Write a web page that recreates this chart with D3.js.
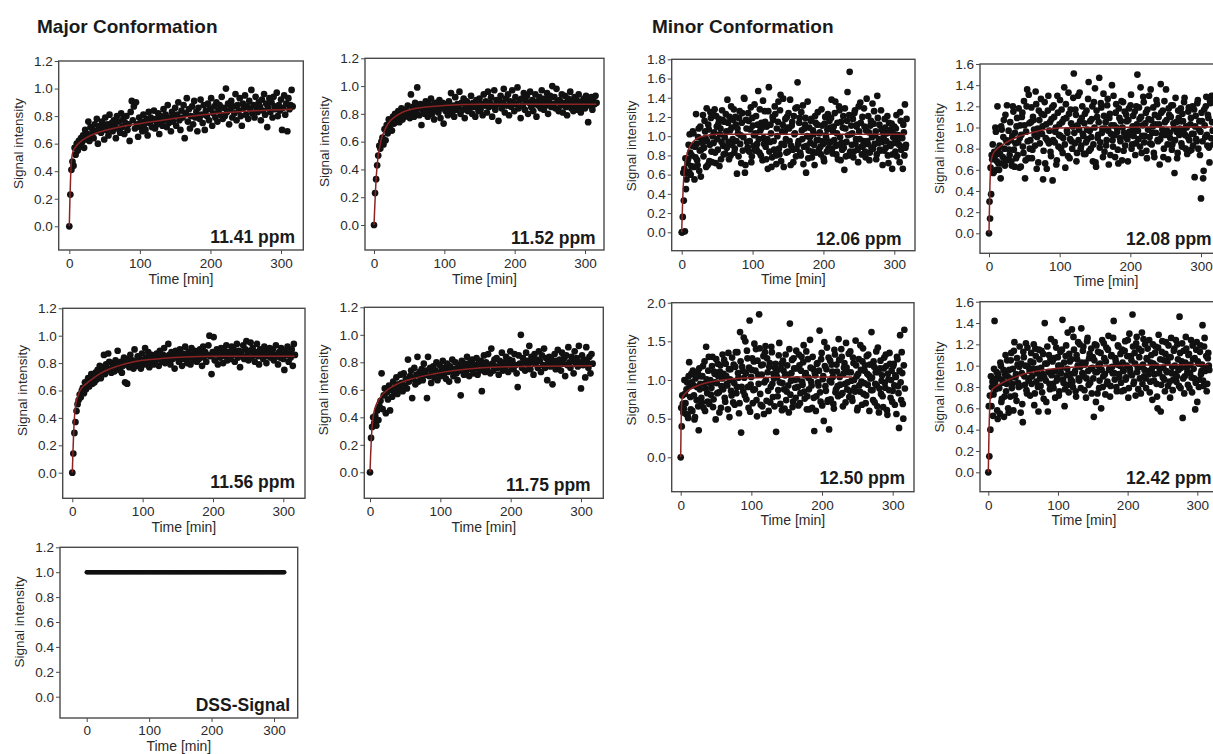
<!DOCTYPE html>
<html><head><meta charset="utf-8">
<script src="https://cdn.jsdelivr.net/npm/d3@7"></script>
<style>body{margin:0;background:#fff}svg text{font-family:"Liberation Sans",Arial,sans-serif}</style>
</head><body><svg id="c" width="1213" height="754"></svg>
<script>
// shared acquisition times [min]
const times = [0,1.5,3,4.5,6,7.5,9,10.5,12,13.5,
15,16.5,18,19.5,21,22.5,24,25.5,27,28.5,
30,31.5,33,34.5,36,37.5,39,40.5,42,43.5,
45,46.5,48,49.5,51,52.5,54,55.5,57,58.5,
60,61.5,63,64.5,66,67.5,69,70.5,72,73.5,
75,76.5,78,79.5,81,82.5,84,85.5,87,88.5,
90,91.5,93,94.5,96,97.5,99,100.5,102,103.5,
105,106.5,108,109.5,111,112.5,114,115.5,117,118.5,
120,121.5,123,124.5,126,127.5,129,130.5,132,133.5,
135,136.5,138,139.5,141,142.5,144,145.5,147,148.5,
150,151.5,153,154.5,156,157.5,159,160.5,162,163.5,
165,166.5,168,169.5,171,172.5,174,175.5,177,178.5,
180,181.5,183,184.5,186,187.5,189,190.5,192,193.5,
195,196.5,198,199.5,201,202.5,204,205.5,207,208.5,
210,211.5,213,214.5,216,217.5,219,220.5,222,223.5,
225,226.5,228,229.5,231,232.5,234,235.5,237,238.5,
240,241.5,243,244.5,246,247.5,249,250.5,252,253.5,
255,256.5,258,259.5,261,262.5,264,265.5,267,268.5,
270,271.5,273,274.5,276,277.5,279,280.5,282,283.5,
285,286.5,288,289.5,291,292.5,294,295.5,297,298.5,
300,301.5,303,304.5,306,307.5,309,310.5,312,313.5,
315,316.5];
// interleaved acquisition times (second scan block) [min]
const times2 = [0.75,2.25,3.75,5.25,6.75,8.25,9.75,11.25,12.75,14.25,
15.75,17.25,18.75,20.25,21.75,23.25,24.75,26.25,27.75,29.25,
30.75,32.25,33.75,35.25,36.75,38.25,39.75,41.25,42.75,44.25,
45.75,47.25,48.75,50.25,51.75,53.25,54.75,56.25,57.75,59.25,
60.75,62.25,63.75,65.25,66.75,68.25,69.75,71.25,72.75,74.25,
75.75,77.25,78.75,80.25,81.75,83.25,84.75,86.25,87.75,89.25,
90.75,92.25,93.75,95.25,96.75,98.25,99.75,101.25,102.75,104.25,
105.75,107.25,108.75,110.25,111.75,113.25,114.75,116.25,117.75,119.25,
120.75,122.25,123.75,125.25,126.75,128.25,129.75,131.25,132.75,134.25,
135.75,137.25,138.75,140.25,141.75,143.25,144.75,146.25,147.75,149.25,
150.75,152.25,153.75,155.25,156.75,158.25,159.75,161.25,162.75,164.25,
165.75,167.25,168.75,170.25,171.75,173.25,174.75,176.25,177.75,179.25,
180.75,182.25,183.75,185.25,186.75,188.25,189.75,191.25,192.75,194.25,
195.75,197.25,198.75,200.25,201.75,203.25,204.75,206.25,207.75,209.25,
210.75,212.25,213.75,215.25,216.75,218.25,219.75,221.25,222.75,224.25,
225.75,227.25,228.75,230.25,231.75,233.25,234.75,236.25,237.75,239.25,
240.75,242.25,243.75,245.25,246.75,248.25,249.75,251.25,252.75,254.25,
255.75,257.25,258.75,260.25,261.75,263.25,264.75,266.25,267.75,269.25,
270.75,272.25,273.75,275.25,276.75,278.25,279.75,281.25,282.75,284.25,
285.75,287.25,288.75,290.25,291.75,293.25,294.75,296.25,297.75,299.25,
300.75,302.25,303.75,305.25,306.75,308.25,309.75,311.25,312.75,314.25,
315.75,317.25];

const v1141 = [0,.23,.41,.47,.44,.57,.52,.6,.55,.62,
.58,.64,.61,.66,.57,.70,.63,.67,.76,.62,
.72,.66,.70,.64,.74,.69,.78,.60,.71,.73,
.68,.76,.72,.63,.79,.70,.74,.66,.81,.71,
.75,.69,.77,.73,.64,.80,.71,.76,.68,.82,
.72,.78,.67,.75,.80,.70,.74,.62,.83,.91,
.77,.87,.71,.90,.74,.65,.79,.72,.76,.69,
.81,.74,.70,.78,.66,.83,.75,.79,.72,.77,
.84,.71,.78,.74,.82,.67,.80,.76,.73,.85,
.77,.81,.72,.88,.75,.79,.69,.83,.76,.80,
.86,.73,.81,.90,.77,.70,.84,.79,.88,.64,
.82,.93,.76,.85,.71,.80,.87,.74,.91,.79,
.83,.69,.86,.78,.92,.81,.75,.88,.70,.84,
.80,.89,.77,.85,.93,.73,.82,.87,.79,.90,
.76,.84,.88,.81,.94,.78,.86,.80,1.0,.83,
.89,.74,.85,.91,.79,.87,.82,.96,.77,.88,
.84,.93,.80,.73,.89,.86,.95,.81,.87,.78,
.91,.85,.99,.82,.88,.79,.94,.86,.83,.90,
.87,.77,.92,.84,.96,.81,.89,.72,.86,.93,
.83,.90,.79,.94,.87,.85,.97,.80,.88,.84,
.92,.70,.86,.95,.81,.89,.69,.93,.85,.88,
.99,.87];

const v1152 = [0,.23,.33,.43,.50,.57,.55,.60,.63,.58,
.69,.61,.72,.66,.76,.70,.74,.68,.78,.73,
.80,.75,.77,.82,.74,.79,.84,.76,.81,.78,
.83,.79,.86,.80,.77,.94,.82,.85,.78,.88,
.81,.99,.84,.79,.87,.72,.83,.86,.80,.89,
.84,.78,.87,.82,.91,.80,.85,.76,.88,.83,
.86,.81,.90,.77,.84,.88,.73,.85,.82,.87,
.79,.89,.84,.95,.81,.86,.78,.92,.83,.87,
.85,.96,.80,.88,.83,.91,.77,.86,.89,.82,
.87,.84,.93,.80,.88,.85,.78,.90,.86,.82,
.91,.83,.87,.79,.94,.86,.89,.81,.96,.85,
.88,.92,.78,.86,.97,.83,.90,.87,.75,.89,
.93,.84,.88,.98,.81,.91,.86,.94,.79,.89,
.85,.97,.88,.82,.92,.87,.99,.84,.90,.77,
.91,.86,.95,.83,.89,.93,.80,.88,.96,.85,
.90,.82,.87,.94,.78,.89,.86,.92,.84,.97,
.88,.83,.91,.86,.95,.80,.89,.93,.85,1.0,
.87,.92,.84,.98,.89,.82,.90,.86,.94,.81,
.88,.93,.85,.79,.91,.87,.96,.84,.89,.82,
.92,.86,.90,.83,.94,.87,.81,.89,.85,.91,
.84,.93,.88,.74,.90,.86,.92,.83,.89,.87,
.93,.88];

const v1206 = [0,.16,.33,.01,.45,.62,.76,.63,.83,.69,
.90,1.03,.55,.78,.92,.70,1.08,.85,.58,.96,
1.22,.88,1.05,.68,.95,1.12,.74,1.25,.84,1.00,
.93,1.28,.72,1.10,.86,1.18,1.02,.76,1.27,.90,
1.15,.82,1.05,1.38,.94,1.20,.80,1.09,.97,1.28,
.87,1.12,.61,1.03,1.19,.92,.72,1.24,.99,1.39,
.70,1.08,.88,1.16,.95,1.30,.79,1.11,1.01,.85,
1.21,.92,1.47,.83,1.06,1.14,.75,.98,1.26,.89,
1.10,.66,1.51,.94,1.03,.78,1.17,.86,1.23,.71,
1.00,1.36,.81,1.43,.92,1.12,.68,1.05,.97,1.20,
.84,1.08,1.38,.90,1.15,.73,1.02,1.29,.87,1.56,
.95,1.19,.80,1.06,1.32,.89,1.12,.62,1.00,.77,
1.09,.93,1.18,.84,1.02,.70,1.14,.96,1.25,.86,
1.04,.81,1.11,.92,.74,1.20,.98,1.07,.87,1.16,
.94,1.38,.82,1.10,1.24,.90,1.03,.76,1.31,.99,
1.15,.86,1.21,.65,1.08,.94,1.46,.80,1.67,1.02,
.91,1.18,.84,1.27,.97,1.12,.73,1.05,1.35,.89,
1.20,.95,1.10,.78,1.39,.92,1.04,.83,1.16,.99,
.87,1.26,1.01,.76,1.42,.93,1.12,.85,1.07,.70,
.98,1.18,.88,1.03,.80,1.14,.92,1.07,.66,.99,
1.10,.84,1.22,.95,1.01,.73,1.16,.89,.66,1.04,
1.33,.91];
const v1206b = [0,.62,.66,.77,.55,.72,.91,1.02,.60,.80,
1.05,.68,.89,1.23,.75,.99,.64,1.10,.86,.93,
.79,1.16,.98,1.29,.70,1.07,.91,1.19,.73,1.24,
1.04,.83,1.21,.97,1.13,.69,1.08,.94,1.17,.81,
.99,1.23,.88,1.14,.76,1.06,1.31,.91,1.17,.83,
1.20,.95,1.08,.79,1.26,1.01,1.14,.85,1.40,.62,
1.17,.94,1.24,.84,1.07,.73,1.19,.90,1.33,1.03,
.86,1.12,.97,1.28,.80,1.09,1.37,.92,1.15,.76,
.97,1.26,.84,1.12,.68,1.20,.95,1.31,.80,1.08,
1.15,.87,1.27,.74,1.05,1.39,.91,1.18,.83,1.09,
1.24,.95,.70,1.11,.86,1.21,1.03,.79,1.30,.92,
1.14,.83,1.25,.97,.71,1.08,1.19,.90,1.36,.85,
.99,1.16,.78,1.06,.91,1.21,.83,1.12,.96,1.03,
.89,1.28,.95,.77,1.13,1.01,.84,1.23,.93,1.09,
1.19,.87,1.05,.96,1.36,.81,1.14,.91,1.27,.75,
.93,1.09,.88,1.29,.79,1.16,1.01,1.22,.84,1.11,
1.03,.78,1.24,.92,1.10,.86,1.31,.97,1.14,.81,
.90,1.29,.84,1.06,.95,1.21,.75,1.11,.88,1.34,
1.13,.92,1.05,.81,1.19,.97,.86,1.27,.94,1.03,
.85,1.09,.95,1.21,.72,1.04,.90,1.13,.81,1.02,
.93,1.08,.79,1.01,.91,1.25,.86,.98,1.12,.80,
.88,1.18];

const v1208 = [0,.14,.37,.70,.57,.77,1.00,.60,1.20,.66,
.83,.52,.98,.72,1.07,.64,.88,1.21,.70,.79,
1.05,.68,.92,1.15,.63,.85,1.01,.74,1.18,.90,
.63,1.10,.82,1.25,.52,.96,1.36,.71,1.04,.88,
1.19,.79,1.07,.93,1.34,.61,.99,1.16,.85,1.27,
.94,.51,1.12,.66,1.03,.88,1.30,.97,.77,1.08,
.50,1.21,.86,1.00,.69,1.14,.93,1.26,.80,1.05,
.90,1.38,.62,1.09,.95,1.33,.71,1.17,.87,1.01,
1.51,.85,1.12,.76,1.30,.98,1.06,.83,1.20,.92,
1.04,.75,1.16,.89,1.43,.97,.80,1.08,.68,1.24,
1.37,.63,1.10,.93,1.47,.86,1.19,.99,1.32,.77,
1.05,.88,1.27,.65,1.13,.94,1.40,.82,1.02,.72,
1.22,.96,.66,1.09,.87,1.25,1.00,.78,1.15,.91,
1.06,.68,1.18,.93,1.31,.84,1.11,.97,.74,1.20,
1.50,.89,1.08,1.38,.76,1.02,1.24,.92,1.14,.71,
.98,1.30,.85,1.07,.95,1.19,.72,1.03,1.26,.88,
1.10,.65,1.41,.93,1.16,.80,1.05,1.36,.97,.70,
1.12,.90,1.21,.84,1.04,.57,1.28,.96,.76,1.09,
.99,1.18,.82,1.06,1.24,.93,1.01,.75,1.15,.88,
1.03,.79,1.20,.94,.53,1.11,.87,1.26,.98,.74,
.33,1.06,.52,1.17,.91,1.29,.83,1.09,.67,1.23,
1.30,.97];
const v1208b = [.30,.62,.74,.84,.58,.73,.96,.68,.79,.60,
.75,1.01,.66,.91,.80,1.12,.69,.86,.97,.74,
.88,.64,1.20,.79,.95,.71,1.09,.86,.62,1.02,
.93,1.14,.76,1.02,.69,1.20,.87,1.31,.80,1.05,
.71,1.10,.98,.83,1.22,.91,.67,1.07,.95,1.13,
1.01,.78,1.24,.90,.61,1.16,.85,1.05,.73,1.19,
.88,1.10,.96,.65,1.30,.82,1.03,.92,1.17,.76,
1.08,.84,1.22,.97,.73,1.13,.89,1.04,.80,1.28,
.95,1.17,.68,1.02,.88,1.33,.80,1.09,.94,.75,
1.13,.86,.98,1.27,.78,1.06,.91,1.20,.84,1.00,
.67,1.16,.90,1.05,.81,1.23,.95,.72,1.11,.99,
.83,1.21,.97,1.09,.74,1.02,.88,1.30,.93,1.14,
1.00,.79,1.18,.90,1.06,.69,1.24,.95,.83,1.12,
.89,1.07,.96,1.21,.80,1.01,.92,1.15,.85,1.03,
.97,1.19,.82,1.10,.92,1.29,.86,1.04,.78,1.17,
1.08,.91,1.36,.84,1.01,.76,1.12,.95,1.22,.87,
1.03,.89,1.14,.98,.72,1.25,.93,1.07,.84,1.18,
.95,1.10,.79,1.21,.99,.88,1.05,.71,1.16,.93,
1.06,.85,1.13,.97,1.28,.80,1.00,.91,1.19,.78,
1.09,.94,.83,1.17,1.01,.89,1.23,.80,1.06,.96,
1.14,.87,.59,1.02,1.20,.93,1.12,.81,1.25,.90,
1.05,.84];

const v1156 = [0,.14,.29,.37,.45,.50,.53,.57,.55,.60,
.62,.58,.66,.61,.64,.69,.63,.67,.72,.65,
.70,.66,.73,.68,.75,.71,.78,.69,.74,.77,
.86,.72,.79,.75,.87,.81,.76,.73,.80,.78,
.74,.82,.77,.89,.79,.75,.81,.73,.78,.84,
.66,.80,.65,.83,.77,.86,.79,.82,.76,.90,
.81,.78,.85,.80,.83,.76,.87,.82,.79,.91,
.84,.80,.88,.77,.83,.86,.81,.79,.85,.82,
.87,.83,.78,.89,.84,.81,.86,.91,.80,.85,
.82,.94,.86,.79,.88,.83,.85,.76,.89,.84,
.86,.81,.90,.84,.78,.87,.83,.92,.85,.80,
.88,.84,.79,.91,.86,.82,.89,.85,.81,.87,
.83,.90,.86,.78,.92,.84,.88,.81,.86,.93,
1.00,.85,.72,.88,.99,.82,.87,.90,.79,.86,
.84,.91,.87,.80,.89,.85,.93,.82,.88,.86,
.83,.92,.86,.90,.81,.87,.94,.84,.89,.77,
.88,.85,.93,.83,.90,.96,.86,.82,.89,.95,
.84,.91,.87,.81,.88,.94,.85,.79,.90,.86,
.89,.83,.92,.87,.80,.88,.85,.91,.84,.87,
.90,.82,.86,.93,.85,.79,.88,.84,.91,.86,
.83,.75,.89,.86,.92,.81,.87,.84,.90,.78,
.94,.86];

const v1175 = [0,.25,.33,.40,.36,.41,.34,.45,.38,.48,
.52,.72,.46,.56,.61,.43,.58,.53,.63,.45,
.60,.55,.66,.58,.62,.69,.57,.64,.61,.71,
.65,.59,.72,.63,.68,.61,.82,.66,.70,.74,
.54,.68,.76,.64,.71,.84,.66,.73,.69,.75,
.67,.79,.71,.74,.54,.84,.70,.76,.65,.73,
.77,.69,.74,.80,.67,.72,.78,.70,.75,.81,
.71,.76,.68,.79,.73,.66,.77,.74,.82,.70,
.75,.80,.72,.67,.78,.74,.56,.81,.76,.71,
.79,.73,.84,.77,.70,.80,.75,.82,.72,.78,
.76,.83,.71,.79,.74,.81,.59,.77,.85,.73,
.80,.75,.86,.78,.72,.90,.79,.74,.82,.77,
.83,.76,.71,.81,.78,.87,.74,.80,.76,.84,
.79,.73,.82,.88,.77,.81,.75,.86,.78,.72,
.62,.85,.79,1.0,.76,.83,.80,.74,.87,.81,
.78,.92,.75,.84,.80,.71,.86,.79,.82,.76,
.88,.81,.73,.85,.78,.90,.76,.83,.67,.80,
.84,.77,.82,.64,.79,.86,.75,.81,.89,.78,
.82,.74,.87,.79,.83,.70,.85,.78,.91,.80,
.76,.84,.81,.72,.88,.79,.83,.77,.92,.80,
.61,.85,.78,.82,.69,.91,.80,.76,.84,.72,
.86,.79];

const v1250 = [0,.40,.69,.63,.82,.56,.97,.51,1.23,.78,
1.08,.60,.93,.49,1.02,.74,1.10,.35,.88,1.05,
.71,1.18,.95,.60,1.43,.83,1.12,.69,1.00,.90,
1.30,.75,1.08,.49,.96,1.21,.84,1.11,.64,1.02,
.88,1.26,.72,1.05,.93,1.35,.52,1.14,.80,.99,
1.20,.68,1.36,.91,1.09,.57,1.62,.32,1.17,.85,
1.03,1.50,.75,1.28,.64,1.77,.94,1.13,.70,1.24,
.88,1.40,.53,1.07,1.85,.82,1.19,.66,1.31,.97,
1.44,.73,1.10,.60,1.22,.91,1.36,.78,1.02,1.16,
.33,1.04,.87,1.48,.69,1.21,.96,1.12,.63,1.33,
.85,1.07,.58,1.73,.99,1.26,.72,1.15,.90,1.38,
1.01,.67,1.19,.83,1.30,.94,1.45,.76,1.09,.62,
1.27,.88,1.52,.98,.64,1.14,.34,1.06,.79,1.22,
.93,1.64,.72,1.35,1.01,.47,1.18,.86,1.42,.74,
.36,1.25,.97,1.11,.69,1.39,.84,1.20,.92,1.53,
1.04,.81,1.30,.66,1.16,.95,1.48,.88,1.10,.78,
1.37,.99,.73,1.22,.90,1.51,1.05,.64,1.27,.85,
1.13,.68,1.41,.96,1.19,.80,1.08,1.33,.60,1.02,
1.62,.87,1.24,.71,1.10,.93,1.42,.58,1.15,.82,
1.06,.65,1.29,.90,1.18,.55,1.01,1.35,.77,1.12,
.86,1.21,.68,1.04,1.30,.92,.38,1.58,.74,1.09,
.50,1.65];
const v1250b = [.64,.80,.58,1.00,.70,.88,.55,1.05,.92,.62,
.97,1.12,.80,.52,1.07,.91,.66,1.15,.95,.77,
1.05,.64,1.24,.89,1.01,.72,1.30,.96,.81,1.18,
.65,1.11,.97,1.27,.83,1.05,.58,1.19,.92,1.33,
1.08,.77,1.21,.95,.62,1.14,1.01,.86,1.29,.71,
.96,1.17,.83,1.36,1.03,.70,1.24,.91,1.12,1.55,
.80,1.09,1.38,.91,1.16,.59,1.04,1.28,.87,1.47,
1.12,.74,1.25,.95,1.41,.68,1.07,1.20,.56,1.36,
1.00,1.28,.86,1.17,.71,1.43,.95,1.08,.66,1.21,
1.11,.79,1.32,.97,1.15,.61,1.25,.88,1.06,.74,
1.19,.93,1.40,.81,1.09,.65,1.28,1.00,.77,1.15,
.91,1.33,.70,1.12,.98,1.23,.85,1.06,1.37,.79,
1.03,.62,1.16,.93,1.30,.77,1.09,.60,1.21,.97,
1.12,.84,1.27,.67,1.05,1.49,.92,1.14,.72,1.29,
.99,.75,1.20,1.04,.63,1.33,.88,1.11,.79,1.26,
.94,1.40,.83,1.08,1.22,.71,1.16,.97,1.34,.86,
1.10,.77,1.29,1.00,.85,1.19,.61,1.08,.93,1.45,
.98,1.24,.82,1.12,.70,1.31,.94,1.06,1.20,.87,
1.03,.74,1.17,.95,1.37,.66,1.10,.89,1.25,.99,
.79,1.15,.96,1.33,.61,1.08,.87,1.21,1.00,.72,
1.18,.93,1.06,.56,1.27,.83,1.12,.97,1.36,.69,
1.19,.89];

const v1242 = [0,.15,.40,.62,.85,.73,1.42,.78,.94,.50,
.88,.55,1.00,.69,.84,.52,.92,.76,1.05,.60,
.96,.71,1.12,.83,.58,1.22,.89,.67,1.01,.80,
1.18,.56,.93,.47,1.08,.82,1.21,.74,.99,.88,
.72,1.12,.90,1.03,.63,1.16,.85,.97,.57,1.06,
.81,1.14,.92,.69,1.40,.86,1.02,.57,1.10,.78,
1.25,.94,.83,1.07,.70,1.17,.89,1.00,.76,1.13,
.98,1.43,.84,.62,1.09,.91,1.31,.75,1.04,.87,
1.34,.80,1.15,.95,.71,1.06,1.22,.86,.99,1.35,
.93,1.18,.77,1.03,.88,1.26,.82,1.11,.97,.74,
1.08,.52,1.20,.66,.94,1.13,.79,1.02,.60,1.24,
.90,1.07,.73,1.17,.85,1.28,.98,.81,1.10,.93,
1.42,.87,1.04,.76,1.19,.92,1.00,.84,1.15,.96,
.77,1.23,.89,1.09,.70,1.30,.94,1.05,1.48,.83,
1.12,.72,1.27,.98,1.16,.88,.74,1.31,1.01,.90,
1.20,.79,1.06,.95,1.24,.85,1.10,.68,1.02,.92,
1.18,.83,.60,1.29,.97,.57,1.13,.89,1.05,.76,
1.22,.94,.81,1.08,.70,1.26,.99,.87,1.16,.92,
.85,1.20,.96,1.46,.79,1.04,.51,1.14,.90,1.27,
.98,.82,1.11,.93,1.24,.75,1.06,.88,.59,1.15,
.66,1.02,.87,1.19,.95,1.38,.81,1.26,.98,.76,
1.07,1.00];
const v1242b = [.62,.72,.90,.80,.53,.97,.84,.88,.58,.92,
.79,1.03,.66,.87,.96,.71,1.10,.83,.90,.56,
.88,1.05,.79,.97,1.14,.72,.92,1.07,.84,.99,
.81,1.02,.64,1.13,.90,1.00,.77,1.17,.86,.95,
1.04,.83,.97,1.20,.74,1.09,.93,.80,1.15,.88,
.98,.75,1.11,.89,1.02,.66,1.18,.94,.83,1.06,
.91,1.04,.79,1.22,.95,.86,1.08,.72,1.00,.93,
1.15,.87,1.03,.78,1.19,.97,.82,1.11,.92,1.06,
.85,1.27,.93,.76,1.10,1.00,.88,1.20,.79,1.03,
1.14,.90,1.01,.70,1.23,.95,1.07,.84,1.16,.98,
.88,1.05,.94,1.19,.74,1.00,.86,1.12,.96,.80,
1.21,.92,1.04,.83,1.15,.96,.71,1.09,.99,1.26,
.93,1.07,.80,1.01,1.18,.89,1.11,.76,1.03,.95,
1.14,.87,1.00,1.24,.79,.97,1.09,.91,1.18,.85,
1.02,1.21,.94,.78,1.08,.99,1.14,.83,1.25,.96,
.88,1.07,1.16,.92,.75,1.03,.97,1.20,.86,1.12,
1.00,.71,1.17,.93,1.06,.82,1.23,.98,.87,1.11,
.95,1.03,1.19,.85,1.08,.93,.77,1.14,1.00,1.24,
.90,1.06,.81,1.12,.98,1.21,.88,.74,1.03,1.16,
.94,1.10,.79,1.01,.89,1.19,.97,1.07,.84,1.22,
1.04,.80,1.13,.92,1.01,.86,1.18,.95,1.09,.83,
1.12,.96];

const vDSS = [1,1,1,1,1,1,1,1,1,1,
1,1,1,1,1,1,1,1,1,1,
1,1,1,1,1,1,1,1,1,1,
1,1,1,1,1,1,1,1,1,1,
1,1,1,1,1,1,1,1,1,1,
1,1,1,1,1,1,1,1,1,1,
1,1,1,1,1,1,1,1,1,1,
1,1,1,1,1,1,1,1,1,1,
1,1,1,1,1,1,1,1,1,1,
1,1,1,1,1,1,1,1,1,1,
1,1,1,1,1,1,1,1,1,1,
1,1,1,1,1,1,1,1,1,1,
1,1,1,1,1,1,1,1,1,1,
1,1,1,1,1,1,1,1,1,1,
1,1,1,1,1,1,1,1,1,1,
1,1,1,1,1,1,1,1,1,1,
1,1,1,1,1,1,1,1,1,1,
1,1,1,1,1,1,1,1,1,1,
1,1,1,1,1,1,1,1,1,1,
1,1,1,1,1,1,1,1,1,1,
1,1,1,1,1,1,1,1,1,1,
1,1];

// fitted curves [time, signal]
const fit1141 = [[0,0],[1,0.22],[2,0.38],[3,0.47],[5,0.54],[8,0.57],[15,0.61],[25,0.645],[35,0.67],[50,0.695],[75,0.725],[100,0.745],[150,0.785],[200,0.815],[250,0.835],[316,0.85]];
const fit1152 = [[0,0],[1,0.12],[2,0.23],[3,0.33],[4,0.4],[6,0.5],[8,0.56],[10,0.61],[15,0.68],[20,0.73],[30,0.78],[40,0.81],[60,0.84],[100,0.86],[150,0.87],[316,0.87]];
const fit1206 = [[0,0],[1,0.25],[2,0.45],[3,0.58],[5,0.72],[8,0.83],[12,0.9],[20,0.97],[30,1.0],[50,1.02],[316,1.02]];
const fit1208 = [[0,0],[1,0.37],[2,0.58],[3,0.68],[5,0.74],[10,0.79],[20,0.84],[40,0.91],[60,0.95],[80,0.98],[100,0.995],[150,1.0],[316,1.005]];
const fit1156 = [[0,0],[1,0.16],[2,0.3],[3,0.4],[5,0.5],[8,0.56],[11,0.6],[20,0.65],[30,0.69],[40,0.725],[60,0.77],[80,0.8],[100,0.82],[130,0.835],[160,0.845],[200,0.85],[316,0.85]];
const fit1175 = [[0,0],[1,0.14],[2,0.25],[3,0.33],[5,0.42],[8,0.48],[14,0.54],[25,0.6],[40,0.645],[60,0.68],[90,0.715],[120,0.74],[160,0.76],[200,0.768],[250,0.772],[316,0.775]];
const fit1250 = [[0,0],[0.5,0.4],[1,0.62],[2,0.76],[4,0.8],[8,0.84],[15,0.89],[25,0.93],[40,0.97],[60,1.0],[90,1.025],[130,1.035],[180,1.04],[243,1.04]];
const fit1242 = [[0,0],[1,0.38],[2,0.6],[3,0.72],[5,0.77],[10,0.8],[20,0.84],[30,0.87],[50,0.92],[75,0.955],[100,0.975],[150,0.995],[200,1.003],[316,1.01]];

// ticks and labels
const xTicks = [0,100,200,300];
const yTicks12 = [0,0.2,0.4,0.6,0.8,1.0,1.2];
const yTicks16 = [0,0.2,0.4,0.6,0.8,1.0,1.2,1.4,1.6];
const yTicks18 = [0,0.2,0.4,0.6,0.8,1.0,1.2,1.4,1.6,1.8];
const yTicks20 = [0,0.5,1.0,1.5,2.0];
const sectionTitles = ["Major Conformation","Minor Conformation"];
const xTitle = "Time [min]";
const yTitle = "Signal intensity";

// layout (pixel geometry only)
const panels = [
  {label:"11.41 ppm", vals:v1141, fit:fit1141, ticks:yTicks12, box:[58.7,61,303.3,250], zero:226.3, x0:69.3, x300:281, lx:295, ly:243.3},
  {label:"11.52 ppm", vals:v1152, fit:fit1152, ticks:yTicks12, box:[365,58.3,604,250], zero:225, x0:374, x300:585, lx:595.7, ly:244},
  {label:"12.06 ppm", vals:v1206, vals2:v1206b, fit:fit1206, ticks:yTicks18, box:[671.7,59.3,915,250.7], zero:232.3, x0:681.7, x300:894.3, lx:901.7, ly:245},
  {label:"12.08 ppm", vals:v1208, vals2:v1208b, fit:fit1208, ticks:yTicks16, box:[980,64,1232,253.3], zero:233.3, x0:989, x300:1201, lx:1211.7, ly:245, tx:1106, tOff:33},
  {label:"11.56 ppm", vals:v1156, fit:fit1156, ticks:yTicks12, box:[62.7,308.3,305,498.3], zero:472.7, x0:72.3, x300:283.3, lx:295, ly:488.3},
  {label:"11.75 ppm", vals:v1175, fit:fit1175, ticks:yTicks12, box:[364.3,307.3,603.3,498.3], zero:472.3, x0:370, x300:581, lx:590.7, ly:491},
  {label:"12.50 ppm", vals:v1250, vals2:v1250b, fit:fit1250, ticks:yTicks20, box:[671.7,302.7,914,491.7], zero:457.3, x0:680.7, x300:892.7, lx:905, ly:484},
  {label:"12.42 ppm", vals:v1242, vals2:v1242b, fit:fit1242, ticks:yTicks16, box:[980,301.7,1222,491.7], zero:472.3, x0:988.3, x300:1197.3, lx:1211.7, ly:484, tx:1084},
  {label:"DSS-Signal", vals:vDSS, fit:null, ticks:yTicks12, box:[60,547.3,297.7,718], zero:696.7, x0:86.7, x300:274, lx:290, ly:710.7, r:2.2, tOff:33, pad:3}
];

const svg = d3.select("#c");
svg.append("rect").attr("width",1213).attr("height",754).attr("fill","#ffffff");
const defs = svg.append("defs");

svg.append("text").attr("x",37).attr("y",33).attr("font-size",19).attr("font-weight","bold").attr("fill","#1a1a1a").text(sectionTitles[0]);
svg.append("text").attr("x",652).attr("y",33).attr("font-size",19).attr("font-weight","bold").attr("fill","#1a1a1a").text(sectionTitles[1]);

panels.forEach((p,i) => {
  const [l,t,r,b] = p.box;
  const yMax = p.ticks[p.ticks.length-1];
  const x = d3.scaleLinear().domain([0,300]).range([p.x0,p.x300]);
  const y = d3.scaleLinear().domain([0,yMax]).range([p.zero,t]);
  const g = svg.append("g");
  const cid = "clip"+i;
  defs.append("clipPath").attr("id",cid).append("rect").attr("x",l).attr("y",t).attr("width",r-l).attr("height",b-t);

  const pts = g.append("g").attr("clip-path",`url(#${cid})`);
  let data = d3.zip(times,p.vals);
  if (p.vals2) data = data.concat(d3.zip(times2,p.vals2));
  pts.selectAll("circle").data(data).join("circle")
    .attr("cx",d=>x(d[0])).attr("cy",d=>y(d[1])).attr("r",p.r||3.35).attr("fill","#111");
  if (p.fit) {
    pts.append("path").datum(p.fit)
      .attr("d",d3.line().x(d=>x(d[0])).y(d=>y(d[1])).curve(d3.curveMonotoneX))
      .attr("fill","none").attr("stroke","#8b2323").attr("stroke-width",1.5);
  }
  g.append("rect").attr("x",l).attr("y",t).attr("width",r-l).attr("height",b-t)
    .attr("fill","none").attr("stroke","#4a4a4a").attr("stroke-width",1.4);

  const xa = g.append("g").attr("transform",`translate(0,${b})`)
    .call(d3.axisBottom(x).tickValues(xTicks).tickFormat(d3.format("d")).tickSize(4).tickPadding(p.pad||4.5));
  const ya = g.append("g").attr("transform",`translate(${l},0)`)
    .call(d3.axisLeft(y).tickValues(p.ticks).tickFormat(d3.format(".1f")).tickSize(4).tickPadding(2));
  [xa,ya].forEach(a => {
    a.select(".domain").remove();
    a.selectAll(".tick line").attr("stroke","#4a4a4a");
    a.selectAll(".tick text").attr("fill","#2a2a2a").attr("font-size",13.5).attr("font-family","'Liberation Sans',Arial,sans-serif");
  });

  g.append("text").attr("x",p.tx || (l+r)/2).attr("y",b+(p.tOff||33.5)).attr("text-anchor","middle")
    .attr("font-size",14).attr("fill","#2a2a2a").text(xTitle);
  const cy = (p.zero + t)/2;
  g.append("text").attr("transform",`translate(${l-36},${cy}) rotate(-90)`).attr("text-anchor","middle")
    .attr("font-size",13.5).attr("fill","#2a2a2a").text(yTitle);
  g.append("text").attr("x",p.lx).attr("y",p.ly).attr("text-anchor","end")
    .attr("font-size",17.5).attr("font-weight","bold").attr("fill","#1a1a1a").text(p.label);
});
</script></body></html>
